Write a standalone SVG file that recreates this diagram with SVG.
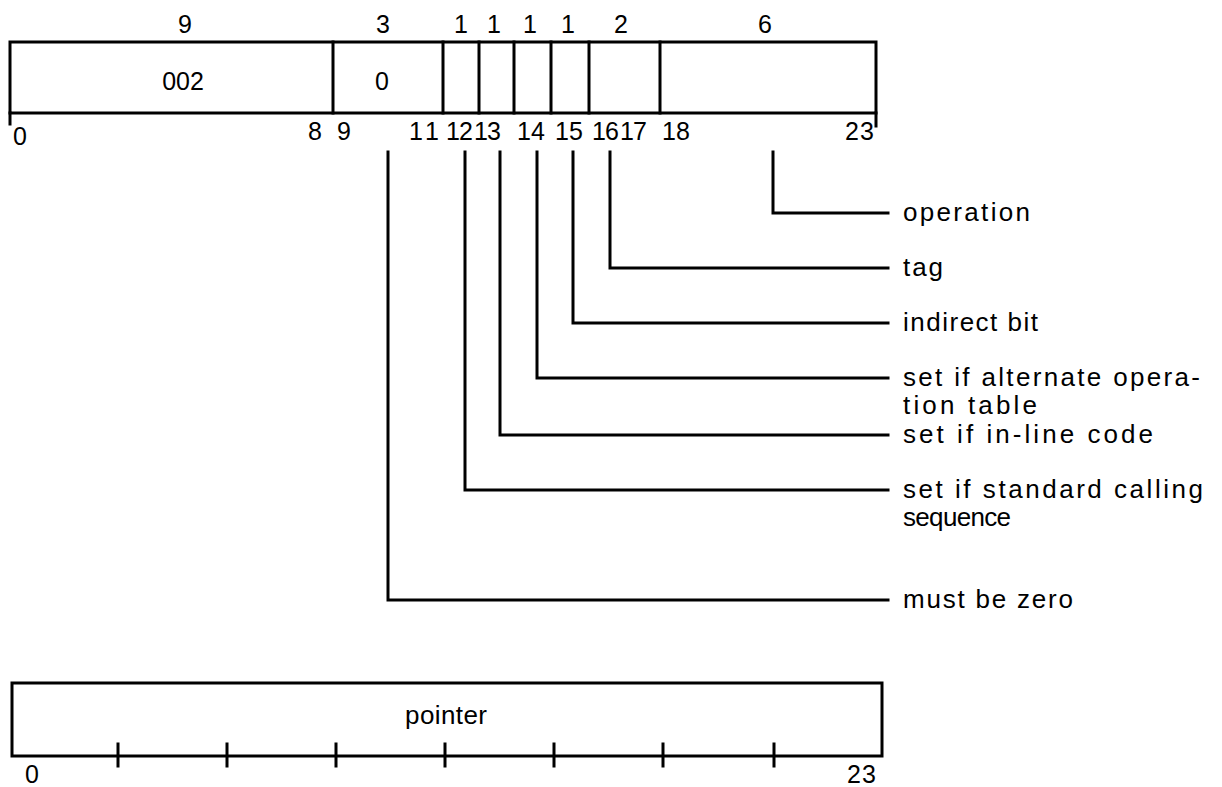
<svg xmlns="http://www.w3.org/2000/svg" width="1222" height="787" viewBox="0 0 1222 787">
<style>
.ln{fill:none;stroke:#000;stroke-width:3;stroke-linecap:square}
.dg{font-family:"Liberation Sans",Arial,sans-serif;font-size:25px;fill:#000}
.lb{font-family:"Liberation Sans",Arial,sans-serif;font-size:26px;fill:#000}
.mid{text-anchor:middle}
</style>
<rect width="1222" height="787" fill="#fff"/>
<g id="word1">
<rect class="ln" x="10" y="42" width="866" height="71"/>
<path class="ln" d="M10 113V124M876 113V126M333 42V113M443 42V113M479 42V113M514 42V113M551 42V113M589 42V113M660 42V113"/>
<text class="dg mid" x="185" y="33">9</text>
<text class="dg mid" x="383" y="33">3</text>
<text class="dg mid" x="461" y="33">1</text>
<text class="dg mid" x="494" y="33">1</text>
<text class="dg mid" x="530" y="33">1</text>
<text class="dg mid" x="568" y="33">1</text>
<text class="dg mid" x="621" y="33">2</text>
<text class="dg mid" x="765" y="33">6</text>
<text class="dg mid" x="183" y="90">002</text>
<text class="dg mid" x="382" y="90">0</text>
<text class="dg" x="13" y="145">0</text>
<text class="dg" x="308" y="140">8</text>
<text class="dg" x="337" y="140">9</text>
<text class="dg" x="409 425" y="140">11</text>
<text class="dg" x="446 459" y="140">12</text>
<text class="dg" x="474 487" y="140">13</text>
<text class="dg" x="517 531" y="140">14</text>
<text class="dg" x="555 569" y="140">15</text>
<text class="dg" x="592 605" y="140">16</text>
<text class="dg" x="620 633" y="140">17</text>
<text class="dg" x="662 676" y="140">18</text>
<text class="dg" x="845 860" y="140">23</text>
</g>
<g id="connectors">
<path class="ln" d="M773 152V213H888"/>
<path class="ln" d="M610 152V268H888"/>
<path class="ln" d="M573 152V323H888"/>
<path class="ln" d="M537 152V378H888"/>
<path class="ln" d="M500 152V435H888"/>
<path class="ln" d="M465 152V490H888"/>
<path class="ln" d="M388 152V600H888"/>
</g>
<g id="labels">
<text class="lb" x="903" y="221" textLength="127" lengthAdjust="spacing">operation</text>
<text class="lb" x="903" y="276" textLength="40" lengthAdjust="spacing">tag</text>
<text class="lb" x="903" y="331" textLength="135" lengthAdjust="spacing">indirect bit</text>
<text class="lb" x="903" y="386" textLength="297" lengthAdjust="spacing">set if alternate opera-</text>
<text class="lb" x="903" y="414" textLength="134" lengthAdjust="spacing">tion table</text>
<text class="lb" x="903" y="443" textLength="250" lengthAdjust="spacing">set if in-line code</text>
<text class="lb" x="903" y="498" textLength="300" lengthAdjust="spacing">set if standard calling</text>
<text class="lb" x="903" y="526" textLength="108" lengthAdjust="spacing">sequence</text>
<text class="lb" x="903" y="608" textLength="170" lengthAdjust="spacing">must be zero</text>
</g>
<g id="word2">
<rect class="ln" x="12" y="683" width="870" height="73"/>
<path class="ln" d="M118 744V766M227 744V766M336 744V766M445 744V766M554 744V766M663 744V766M774 744V766"/>
<text class="lb mid" x="446" y="724" textLength="82" lengthAdjust="spacing">pointer</text>
<text class="dg" x="25" y="783">0</text>
<text class="dg" x="847 862" y="783">23</text>
</g>
</svg>
